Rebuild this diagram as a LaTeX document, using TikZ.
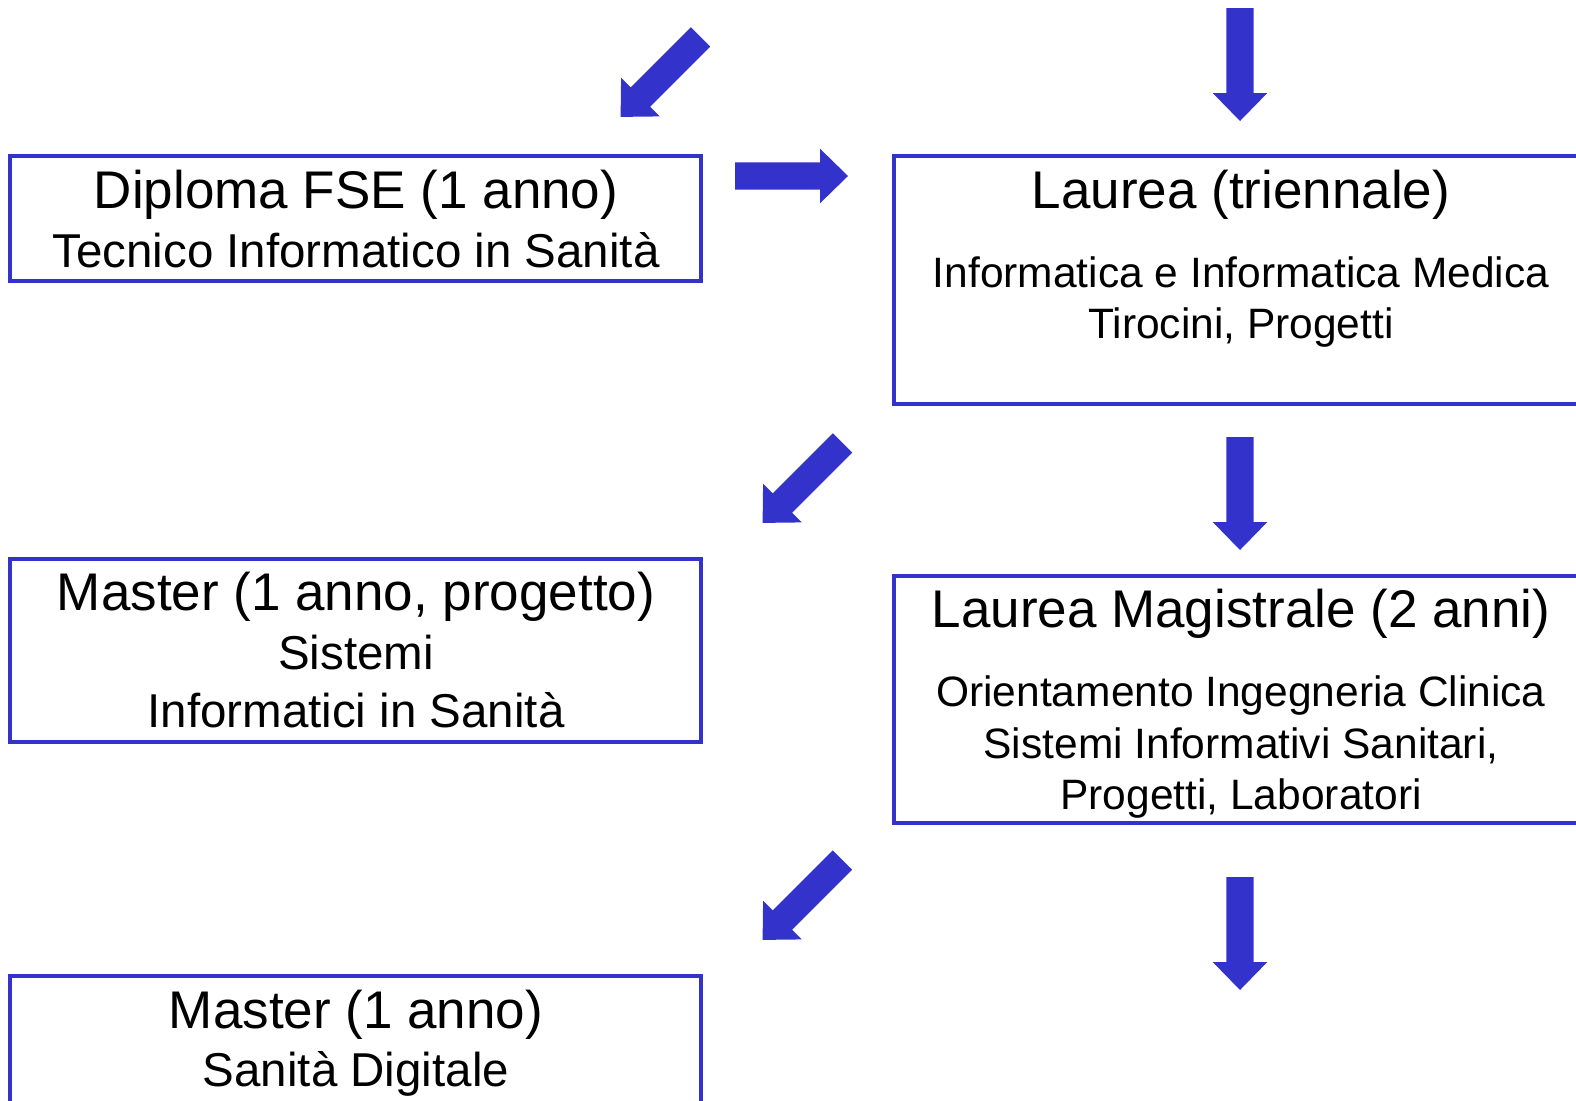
\documentclass[tikz,border=0pt]{standalone}
\usepackage{fontspec}
\setmainfont{Liberation Sans}
\definecolor{arrowblue}{RGB}{51,51,204}
\tikzset{
  framebox/.style={draw=arrowblue, line width=3.5pt, rectangle, inner sep=0pt, outer sep=0pt, anchor=north west},
  bigtxt/.style={font=\fontsize{53}{60}\selectfont, inner sep=0pt, anchor=base},
  midtxt/.style={font=\fontsize{47.5}{56}\selectfont, inner sep=0pt, anchor=base},
  smalltxt/.style={font=\fontsize{42.5}{50}\selectfont, inner sep=0pt, anchor=base},
  blockarrow/.pic={\fill[arrowblue] (0,-13.7) -- (85,-13.7) -- (85,-27.3) -- (113,0) -- (85,27.3) -- (85,13.7) -- (0,13.7) -- cycle;}
}
\begin{document}
\begin{tikzpicture}[x=1pt,y=-1pt]
\useasboundingbox (0,0) rectangle (1576,1100);
\clip (0,0) rectangle (1576,1100);
\fill[white] (0,0) rectangle (1576,1100);

% boxes
\node[framebox, minimum width=691pt, minimum height=125pt] (b1) at (10,156) {};
\node[framebox, minimum width=720pt, minimum height=248pt] (b2) at (894,156) {};
\node[framebox, minimum width=691pt, minimum height=183pt] (b3) at (10,559) {};
\node[framebox, minimum width=720pt, minimum height=247pt] (b4) at (894,576) {};
\node[framebox, minimum width=691pt, minimum height=200pt] (b5) at (10,976) {};

% texts
\node[bigtxt] (t1a) at (356,208) {Diploma FSE (1 anno)};
\node[midtxt] (t1b) at (356,267) {Tecnico Informatico in Sanità};

\node[bigtxt] (t2a) at (1241,208) {Laurea (triennale)};
\node[smalltxt] (t2b) at (1241,287) {Informatica e Informatica Medica};
\node[smalltxt] (t2c) at (1241,338) {Tirocini, Progetti};

\node[bigtxt] (t3a) at (356,610) {Master (1 anno, progetto)};
\node[midtxt] (t3b) at (356,669) {Sistemi};
\node[midtxt] (t3c) at (356,727) {Informatici in Sanità};

\node[bigtxt] (t4a) at (1241,627) {Laurea Magistrale (2 anni)};
\node[smalltxt] (t4b) at (1241,706) {Orientamento Ingegneria Clinica};
\node[smalltxt] (t4c) at (1241,758) {Sistemi Informativi Sanitari,};
\node[smalltxt] (t4d) at (1241,809) {Progetti, Laboratori};

\node[bigtxt] (t5a) at (356,1028) {Master (1 anno)};
\node[midtxt] (t5b) at (356,1086) {Sanità Digitale};

% arrows
\coordinate (a1) at (700.5,37);
\coordinate (a2) at (842.5,443);
\coordinate (a3) at (842.5,860);
\coordinate (d1) at (1240,8);
\coordinate (d2) at (1240,437);
\coordinate (d3) at (1240,877);
\coordinate (r1) at (735,176);
\pic[rotate=225] at (a1) {blockarrow};
\pic[rotate=225] at (a2) {blockarrow};
\pic[rotate=225] at (a3) {blockarrow};
\pic[rotate=-90] at (d1) {blockarrow};
\pic[rotate=-90] at (d2) {blockarrow};
\pic[rotate=-90] at (d3) {blockarrow};
\pic at (r1) {blockarrow};
\end{tikzpicture}
\end{document}
